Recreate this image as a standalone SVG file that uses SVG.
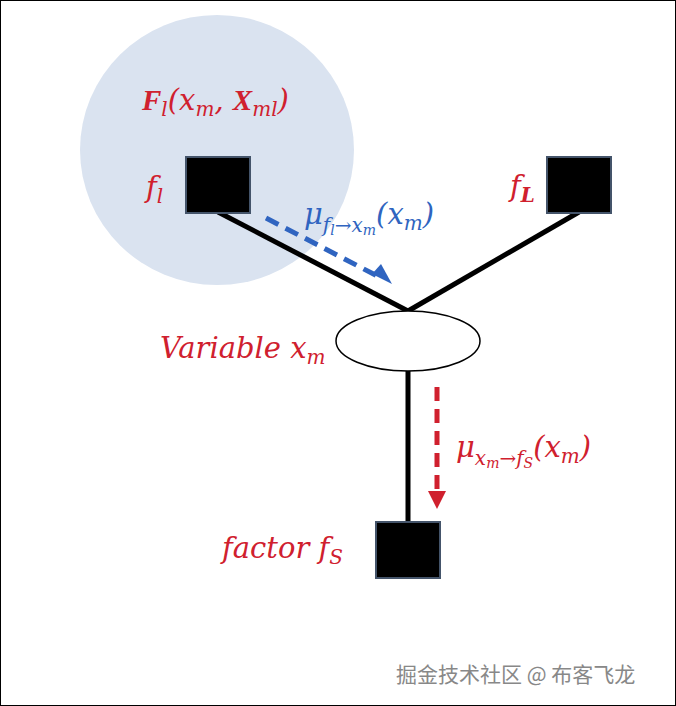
<svg xmlns="http://www.w3.org/2000/svg" width="676" height="706" viewBox="0 0 676 706">
<style>
.sq{fill:#000;stroke:#44546a;stroke-width:2}
.lbl{font-family:"DejaVu Serif","Liberation Serif",serif;font-style:italic;fill:#d0202e;font-size:29px}
.blue{font-family:"DejaVu Serif","Liberation Serif",serif;font-style:italic;fill:#2f64c0;font-size:29px}
.sub{font-size:20px}
.ss{font-size:14px}
</style>
<rect x="0.5" y="0.5" width="675" height="705" fill="#fff" stroke="#000"/>
<ellipse cx="217" cy="150" rx="137" ry="135" fill="#dae3f0"/>
<g id="connectors" stroke="#000" stroke-width="5" fill="none">
<line x1="218" y1="212" x2="408" y2="311"/>
<line x1="579" y1="212" x2="408" y2="311"/>
<line x1="408" y1="371" x2="408" y2="522"/>
<line x1="266" y1="218" x2="383" y2="279" stroke="#2f64c0" stroke-dasharray="14,8"/>
<line x1="437" y1="387" x2="437" y2="500" stroke="#d0202e" stroke-dasharray="14,8"/>
</g>
<path d="M372,274 L392,284 L381,264z" fill="#2f64c0"/>
<path d="M428,491 L446,491 L437,509z" fill="#d0202e"/>
<g id="fl"><rect class="sq" x="186" y="157" width="64" height="56"/><text class="lbl" x="146" y="197">f<tspan class="sub" dy="6">l</tspan></text></g>
<g id="fL"><rect class="sq" x="547" y="157" width="64" height="56"/><text class="lbl" x="510" y="196">f<tspan class="sub" dy="6" font-weight="bold">L</tspan></text></g>
<g id="fS"><rect class="sq" x="376" y="522" width="64" height="56"/><text class="lbl" x="222" y="558">factor f<tspan class="sub" dy="6">S</tspan></text></g>
<g id="xm"><ellipse cx="408" cy="341" rx="72" ry="30" fill="#fff" stroke="#000" stroke-width="1.5"/><text class="lbl" x="160" y="358">Variable x<tspan class="sub" dy="6">m</tspan></text></g>
<text class="lbl" x="142" y="110" font-size="31"><tspan font-weight="bold" font-family="Liberation Serif">F</tspan><tspan class="sub" dy="6">l</tspan><tspan dy="-6">(x</tspan><tspan class="sub" dy="6">m</tspan><tspan dy="-6">, </tspan><tspan font-weight="bold" font-family="Liberation Serif">X</tspan><tspan class="sub" dy="6">ml</tspan><tspan dy="-6">)</tspan></text>
<text class="blue" x="304" y="224">μ<tspan class="sub" dy="8">f</tspan><tspan class="ss" dy="3">l</tspan><tspan class="sub" dy="-3">→x</tspan><tspan class="ss" dy="3">m</tspan><tspan dy="-11">(x</tspan><tspan class="sub" dy="6">m</tspan><tspan dy="-6">)</tspan></text>
<text class="lbl" x="456" y="457">μ<tspan class="sub" dy="8">x</tspan><tspan class="ss" dy="3">m</tspan><tspan class="sub" dy="-3">→f</tspan><tspan class="ss" dy="3">S</tspan><tspan dy="-11">(x</tspan><tspan class="sub" dy="6">m</tspan><tspan dy="-6">)</tspan></text>
<text x="396" y="682" font-family="Noto Sans CJK SC,sans-serif" font-size="21" fill="#888">掘金技术社区 @ 布客飞龙</text>
</svg>
